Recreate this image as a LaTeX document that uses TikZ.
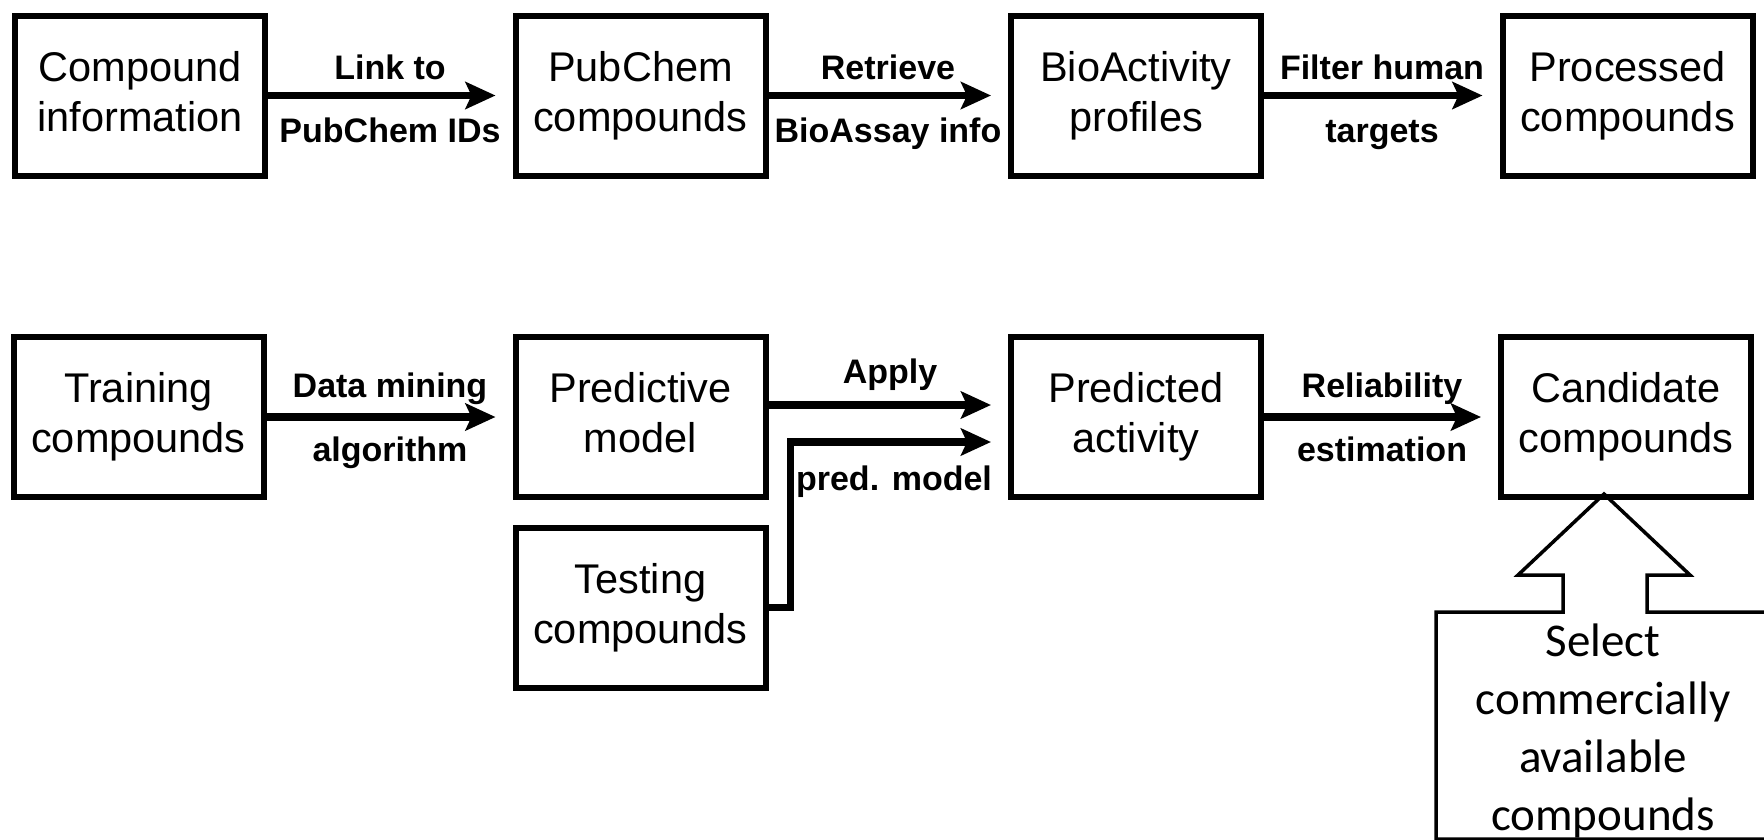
\documentclass[tikz,border=0pt]{standalone}
\usepackage{fontspec}
\setmainfont{Liberation Sans}
\newfontfamily\calloutfont{Carlito}
\usetikzlibrary{arrows.meta,calc}

\begin{document}
\begin{tikzpicture}[x=1pt,y=-1pt,
  stage/.style={draw, line width=6pt, minimum width=250pt, minimum height=160pt,
    inner sep=0pt, align=center, font=\fontsize{41.5}{50}\selectfont,
    execute at end node={\vphantom{p}}},
  lowered/.style={execute at begin node={\rule{0pt}{38pt}}},
  flow/.style={line width=7.5pt, -{Stealth[length=30pt,width=27pt,inset=6pt]},
    shorten >=17pt},
  lbl/.style={font=\bfseries\fontsize{34}{40}\selectfont, anchor=base, inner sep=0pt},
]
\useasboundingbox (0,0) rectangle (1764,839);

% first row: data collection
\node[stage] (ci)  at (140,95.5)   {Compound\\information};
\node[stage] (pc)  at (640.5,95.5) {PubChem\\compounds};
\node[stage] (bp)  at (1136,95.5)  {BioActivity\\profiles};
\node[stage] (prc) at (1627.5,95.5){Processed\\compounds};

\draw[flow] (ci) -- (pc);
\draw[flow] (pc) -- (bp);
\draw[flow] (bp) -- (prc);

\node[lbl] (l1a) at (390,79)  {Link to};
\node[lbl] (l1b) at (390,142) {PubChem IDs};
\node[lbl] (l2a) at (888,79)  {Retrieve};
\node[lbl] (l2b) at (888,142) {BioAssay info};
\node[lbl] (l3a) at (1382,79)  {Filter human};
\node[lbl] (l3b) at (1382,142) {targets};

% second row: modelling
\node[stage,lowered] (tc) at (138.5,417)  {Training\\compounds};
\node[stage,lowered] (pm) at (640.5,417)  {Predictive\\model};
\node[stage] (ts) at (640.5,607.5){Testing\\compounds};
\node[stage,lowered] (pa) at (1136,417)   {Predicted\\activity};
\node[stage,lowered] (cc) at (1626,417)   {Candidate\\compounds};

\draw[flow] (tc) -- (pm);
\draw[flow] ($(pm.east)+(0,-12)$) -- ($(pa.west)+(0,-12)$);
\draw[flow] (ts.east) -- ++(22,0) |- ($(pa.west)+(0,25)$);
\draw[flow] (pa) -- (cc);

\node[lbl] (l4a) at (390,397) {Data mining};
\node[lbl] (l4b) at (390,461) {algorithm};
\node[lbl] (l5a) at (890,383) {Apply};
\node[lbl] (l5b) at (894,490) {pred. model};
\node[lbl] (l6a) at (1382,397) {Reliability};
\node[lbl] (l6b) at (1382,461) {estimation};

% selection callout pointing up at the candidates
\begin{scope}
\clip (0,0) rectangle (1764,839);
\draw[line width=3.5pt, line join=miter]
  (1604,494) -- (1690,575) -- (1647,575) -- (1647,612) -- (1800,612)
  -- (1800,839) -- (1436,839) -- (1436,612) -- (1563,612) -- (1563,575)
  -- (1518,575) -- cycle;
\end{scope}
\node[align=center, inner sep=0pt, font=\calloutfont\fontsize{47}{58}\selectfont]
  (sel) at (1603,731) {Select\\commercially\\available\\compounds};
\end{tikzpicture}
\end{document}
